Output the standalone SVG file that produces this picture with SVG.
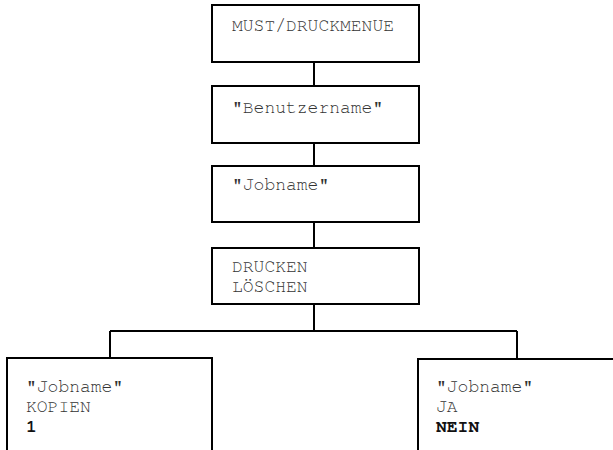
<svg xmlns="http://www.w3.org/2000/svg" width="613" height="450" viewBox="0 0 613 450">
<style>
.box{fill:#fff;stroke:#000;stroke-width:2}
.ln{fill:none;stroke:#000;stroke-width:2}
text{font-family:"Nimbus Mono PS","FreeMono","Courier New","Liberation Mono",monospace;font-size:18px;fill:#333}
.b{font-weight:bold;fill:#111}
</style>
<rect width="613" height="450" fill="#fff"/>
<g id="connectors">
<path class="ln" d="M314 62V86M314 143V166M314 222V248M314 304V331M110 331H517M110 331V358M517 331V359"/>
</g>
<g id="n1"><rect class="box" x="212" y="5" width="207" height="57"/><text x="232" y="31">MUST/DRUCKMENUE</text></g>
<g id="n2"><rect class="box" x="212" y="86" width="207" height="57"/><text x="232" y="113">"Benutzername"</text></g>
<g id="n3"><rect class="box" x="212" y="166" width="207" height="56"/><text x="232" y="190">"Jobname"</text></g>
<g id="n4"><rect class="box" x="212" y="248" width="207" height="56"/><text x="232" y="272">DRUCKEN</text><text x="232" y="292">LÖSCHEN</text></g>
<g id="n5"><path class="ln" d="M7 452V358H212V452"/><text x="26" y="392">"Jobname"</text><text x="26" y="412">KOPIEN</text><text class="b" x="26" y="432">1</text></g>
<g id="n6"><path class="ln" d="M418 452V359H615"/><text x="436" y="392">"Jobname"</text><text x="436" y="412">JA</text><text class="b" x="436" y="432">NEIN</text></g>
</svg>
